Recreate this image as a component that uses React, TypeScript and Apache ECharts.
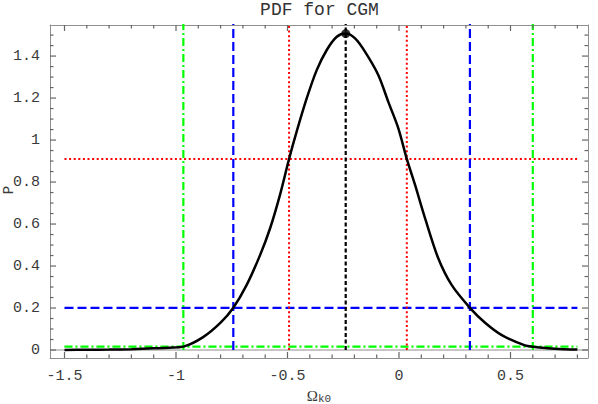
import React, { useEffect, useRef } from "react";
import * as echarts from "echarts";

// ---- data ----
const X_MIN = -1.565;
const X_MAX = 0.8475;
const Y_MIN = -0.038;
const Y_MAX = 1.548;

const X_MAJOR = [-1.5, -1, -0.5, 0, 0.5];
const Y_MAJOR = [0, 0.2, 0.4, 0.6, 0.8, 1, 1.2, 1.4];

// PDF curve [x, y]
const CURVE: [number, number][] = [
  [-1.5, 0.0004], [-1.4, 0.001], [-1.3, 0.002], [-1.2, 0.004], [-1.1, 0.008],
  [-1.03, 0.011], [-0.967, 0.016], [-0.88, 0.06], [-0.8, 0.13], [-0.743, 0.201],
  [-0.683, 0.31], [-0.623, 0.452], [-0.578, 0.58], [-0.534, 0.738], [-0.493, 0.91],
  [-0.459, 1.04], [-0.414, 1.198], [-0.369, 1.333], [-0.324, 1.429], [-0.279, 1.492],
  [-0.239, 1.507], [-0.197, 1.484], [-0.152, 1.42], [-0.093, 1.31], [-0.048, 1.182],
  [-0.003, 1.056], [0.035, 0.91], [0.072, 0.786], [0.117, 0.627], [0.176, 0.437],
  [0.236, 0.31], [0.318, 0.201], [0.386, 0.13], [0.461, 0.071], [0.565, 0.022],
  [0.6, 0.016], [0.7, 0.006], [0.8, 0.002],
];

const PEAK: [number, number] = [-0.239, 1.507];

// interval levels
const H_LEVELS = [
  { y: 0.91, color: "#ff0000", dash: [2, 2.6], width: 2 },
  { y: 0.201, color: "#0000ff", dash: [9, 4], width: 2.2 },
  { y: 0.016, color: "#00ff00", dash: [8, 3, 2, 3], width: 2.2 },
];
const V_LINES = [
  { x: -0.967, color: "#00ff00", dash: [8, 3, 2, 3], width: 2.2 },
  { x: 0.6, color: "#00ff00", dash: [8, 3, 2, 3], width: 2.2 },
  { x: -0.743, color: "#0000ff", dash: [9, 4], width: 2.2 },
  { x: 0.318, color: "#0000ff", dash: [9, 4], width: 2.2 },
  { x: -0.493, color: "#ff0000", dash: [2, 2.6], width: 2 },
  { x: 0.035, color: "#ff0000", dash: [2, 2.6], width: 2 },
  { x: -0.239, color: "#000000", dash: [4, 2.5], width: 2.2 },
];
const CURVE_X_RANGE = [-1.5, 0.8];
const V_TOP = 1.6;

const MONO = "'Liberation Mono', 'DejaVu Sans Mono', monospace";
const FRAME = "#8f8f8f";
const TICK = "#666666";
const LABEL = "#3a3a3a";
const MAJOR_LEN = 6;
const MINOR_LEN = 3.5;

function minors(lo: number, hi: number, step: number, majors: number[]) {
  const out: number[] = [];
  for (let i = Math.round(lo / step); i * step <= hi + 1e-9; i++) {
    const v = Math.round(i * step * 1000) / 1000;
    if (!majors.some((m) => Math.abs(m - v) < 1e-6) && v >= lo && v <= hi) out.push(v);
  }
  return out;
}

export default function App() {
  const ref = useRef<HTMLDivElement>(null);
  useEffect(() => {
    const chart = echarts.init(ref.current!, null, { renderer: "svg" });
    const xMinor = minors(-1.5, 0.8, 0.1, X_MAJOR);
    const yMinor = minors(0, 1.5, 0.05, Y_MAJOR);

    const axisLine = { show: true, onZero: false, lineStyle: { color: FRAME, width: 1 } };
    const xAx = (pos: string, labels: boolean) => ({
      type: "value",
      position: pos,
      min: X_MIN,
      max: X_MAX,
      axisLine,
      splitLine: { show: false },
      axisTick: { show: false },
      axisLabel: labels
        ? { show: true, customValues: X_MAJOR, margin: 11, fontFamily: MONO, fontSize: 15, color: LABEL }
        : { show: false },
    });
    const yAx = (pos: string, labels: boolean) => ({
      type: "value",
      position: pos,
      min: Y_MIN,
      max: Y_MAX,
      axisLine,
      splitLine: { show: false },
      axisTick: { show: false },
      axisLabel: labels
        ? { show: true, customValues: Y_MAJOR, margin: 10, fontFamily: MONO, fontSize: 15, color: LABEL }
        : { show: false },
    });

    const xAxes: any[] = [xAx("bottom", true), xAx("top", false)];
    xAxes[0].name = "{a|Ω}{b|k0}";
    xAxes[0].nameLocation = "middle";
    xAxes[0].nameGap = 11;
    xAxes[0].nameTextStyle = {
      rich: {
        a: { fontFamily: "'Liberation Serif', serif", fontSize: 15, color: LABEL, lineHeight: 17, verticalAlign: "middle" },
        b: { fontFamily: MONO, fontSize: 11, color: LABEL, lineHeight: 17, verticalAlign: "bottom" },
      },
    };
    const yAxes: any[] = [yAx("left", true), yAx("right", false)];

    // frame tick marks (inward): [x, y, side(0 bottom,1 top,2 left,3 right), length]
    const tickData: number[][] = [];
    X_MAJOR.forEach((v) => { tickData.push([v, Y_MIN, 0, MAJOR_LEN]); tickData.push([v, Y_MAX, 1, MAJOR_LEN]); });
    xMinor.forEach((v) => { tickData.push([v, Y_MIN, 0, MINOR_LEN]); tickData.push([v, Y_MAX, 1, MINOR_LEN]); });
    Y_MAJOR.forEach((v) => { tickData.push([X_MIN, v, 2, MAJOR_LEN]); tickData.push([X_MAX, v, 3, MAJOR_LEN]); });
    yMinor.forEach((v) => { tickData.push([X_MIN, v, 2, MINOR_LEN]); tickData.push([X_MAX, v, 3, MINOR_LEN]); });

    const series: any[] = [];
    series.push({
      type: "custom",
      data: tickData,
      encode: { x: 0, y: 1 },
      clip: false,
      silent: true,
      z: 10,
      renderItem: (_params: any, api: any) => {
        const p = api.coord([api.value(0), api.value(1)]);
        const side = api.value(2);
        const len = api.value(3);
        let x2 = p[0];
        let y2 = p[1];
        if (side === 0) y2 -= len;
        else if (side === 1) y2 += len;
        else if (side === 2) x2 += len;
        else x2 -= len;
        return {
          type: "line",
          shape: { x1: p[0], y1: p[1], x2, y2 },
          style: { stroke: TICK, lineWidth: 1.2 },
        };
      },
    });

    series.push({
      type: "line",
      data: [[X_MIN, 0], [X_MAX, 0]],
      symbol: "none",
      lineStyle: { color: FRAME, width: 1 },
      z: 1,
      silent: true,
    });
    H_LEVELS.forEach((h) =>
      series.push({
        type: "line",
        data: [[CURVE_X_RANGE[0], h.y], [CURVE_X_RANGE[1], h.y]],
        symbol: "none",
        lineStyle: { color: h.color, width: h.width, type: h.dash },
        z: 2,
      })
    );
    V_LINES.forEach((v) =>
      series.push({
        type: "line",
        data: [[v.x, 0], [v.x, V_TOP]],
        symbol: "none",
        clip: true,
        lineStyle: { color: v.color, width: v.width, type: v.dash },
        z: 2,
      })
    );
    series.push({
      type: "line",
      data: CURVE,
      smooth: 0.3,
      symbol: "none",
      lineStyle: { color: "#000", width: 2.5 },
      z: 5,
    });
    series.push({
      type: "scatter",
      data: [PEAK],
      symbol: "circle",
      symbolSize: 9,
      itemStyle: { color: "#000" },
      z: 6,
    });

    chart.setOption({
      animation: false,
      backgroundColor: "#ffffff",
      grid: { left: 50, right: 10, top: 25, bottom: 46, outerBoundsMode: "none", containLabel: false, show: false },
      xAxis: xAxes,
      yAxis: yAxes,
      series,
      graphic: [
        {
          type: "text",
          x: 319.5,
          y: 1,
          style: { text: "PDF for CGM", font: `18px ${MONO}`, fill: "#333", textAlign: "center", textVerticalAlign: "top" },
        },
        {
          type: "text",
          x: 9,
          y: 190,
          rotation: Math.PI / 2,
          style: { text: "P", font: `14px ${MONO}`, fill: LABEL, textAlign: "center", textVerticalAlign: "middle" },
        },
      ],
    });
    return () => chart.dispose();
  }, []);
  return (
    <div
      ref={ref}
      style={{ position: "fixed", left: 0, top: 0, width: 598, height: 404, background: "#fff" }}
    />
  );
}
